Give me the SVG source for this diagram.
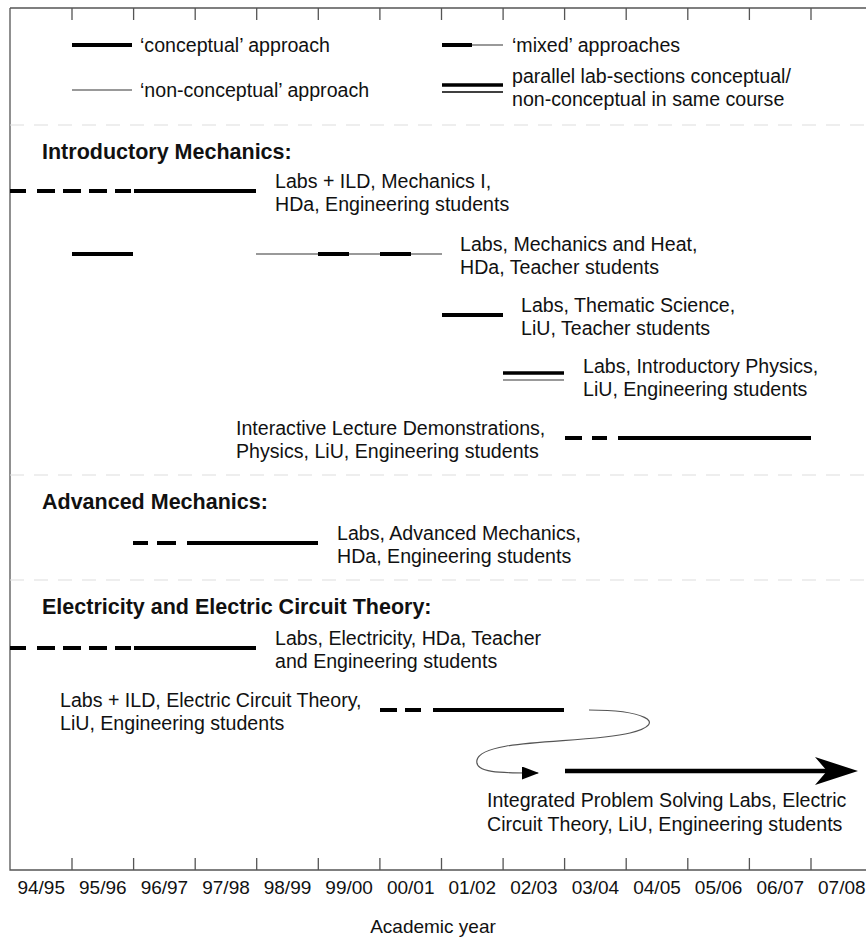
<svg xmlns="http://www.w3.org/2000/svg" width="866" height="942" viewBox="0 0 866 942">
<style>
text{font-family:"Liberation Sans",Arial,sans-serif;font-size:19.6px;fill:#111}
.h{font-weight:bold;font-size:21.5px}
.ax{fill:none;stroke:#555;stroke-width:1.3}
.sep{stroke:#ddd;stroke-width:1;stroke-dasharray:14 10}
.c{stroke:#000;stroke-width:4;fill:none}
.n{stroke:#777;stroke-width:1.5;fill:none}
.yl{text-anchor:middle;font-size:19px}
</style>
<defs>
<marker id="sm" markerWidth="17" markerHeight="13" refX="16" refY="6.5" orient="auto" markerUnits="userSpaceOnUse"><path d="M0,0 L17,6.5 L0,13 Z" fill="#000"/></marker>
</defs>
<rect width="866" height="942" fill="#fff"/>
<g id="frame">
<path class="ax" d="M10,8 H866 M10,8 V870 H866"/>
<path class="ax" d="M72,8v12 M133.6,8v12 M195.2,8v12 M256.7,8v12 M318.3,8v12 M379.9,8v12 M441.5,8v12 M503.1,8v12 M564.6,8v12 M626.2,8v12 M687.8,8v12 M749.4,8v12 M811,8v12"/>
<path class="ax" d="M72,870v-12 M133.6,870v-12 M195.2,870v-12 M256.7,870v-12 M318.3,870v-12 M379.9,870v-12 M441.5,870v-12 M503.1,870v-12 M564.6,870v-12 M626.2,870v-12 M687.8,870v-12 M749.4,870v-12 M811,870v-12"/>
<line class="sep" x1="10" y1="125" x2="866" y2="125"/>
<line class="sep" x1="10" y1="475" x2="866" y2="475"/>
<line class="sep" x1="10" y1="580" x2="866" y2="580"/>
</g>
<g id="axis-labels">
<text class="yl" x="41.2" y="894">94/95</text>
<text class="yl" x="102.8" y="894">95/96</text>
<text class="yl" x="164.4" y="894">96/97</text>
<text class="yl" x="226" y="894">97/98</text>
<text class="yl" x="287.5" y="894">98/99</text>
<text class="yl" x="349.1" y="894">99/00</text>
<text class="yl" x="410.7" y="894">00/01</text>
<text class="yl" x="472.3" y="894">01/02</text>
<text class="yl" x="533.9" y="894">02/03</text>
<text class="yl" x="595.4" y="894">03/04</text>
<text class="yl" x="657" y="894">04/05</text>
<text class="yl" x="718.6" y="894">05/06</text>
<text class="yl" x="780.2" y="894">06/07</text>
<text class="yl" x="841.8" y="894">07/08</text>
<text class="yl" x="433" y="933">Academic year</text>
</g>
<g id="legend">
<line class="c" x1="72" y1="45" x2="132" y2="45"/>
<text x="140" y="52">‘conceptual’ approach</text>
<line class="n" x1="72" y1="90" x2="132" y2="90"/>
<text x="140" y="97">‘non-conceptual’ approach</text>
<line class="c" x1="442" y1="45" x2="472" y2="45"/>
<line class="n" x1="472" y1="45" x2="503" y2="45"/>
<text x="512" y="52">‘mixed’ approaches</text>
<line class="c" x1="442" y1="85" x2="503" y2="85" style="stroke-width:3.5"/>
<line x1="442" y1="92" x2="503" y2="92" stroke="#000" stroke-width="1.3"/>
<text x="512" y="83">parallel lab-sections conceptual/</text>
<text x="512" y="106">non-conceptual in same course</text>
</g>
<g id="intro-mech">
<text class="h" x="42" y="159">Introductory Mechanics:</text>
</g>
<g id="labs-ild-mech">
<path class="c" d="M10,191H26 M37,191H55 M63,191H81 M89,191H107 M115,191H131 M134,191H256"/>
<text x="275" y="188">Labs + ILD, Mechanics I,</text>
<text x="275" y="211">HDa, Engineering students</text>
</g>
<g id="labs-mech-heat">
<path class="c" d="M72,254H133"/>
<path class="n" d="M256,254H442"/>
<path class="c" d="M318,254H349 M380,254H411"/>
<text x="460" y="251">Labs, Mechanics and Heat,</text>
<text x="460" y="274">HDa, Teacher students</text>
</g>
<g id="labs-thematic">
<path class="c" d="M442,315H503"/>
<text x="521" y="312">Labs, Thematic Science,</text>
<text x="521" y="335">LiU, Teacher students</text>
</g>
<g id="labs-intro-phys">
<path class="c" d="M503,373H564" style="stroke-width:3.5"/>
<path d="M503,380H564" stroke="#777" stroke-width="1.5"/>
<text x="583" y="373">Labs, Introductory Physics,</text>
<text x="583" y="396">LiU, Engineering students</text>
</g>
<g id="ild-physics">
<path class="c" d="M565,438H582 M592,438H607 M618,438H811"/>
<text x="236" y="435">Interactive Lecture Demonstrations,</text>
<text x="236" y="458">Physics, LiU, Engineering students</text>
</g>
<g id="adv-mech">
<text class="h" x="42" y="509">Advanced Mechanics:</text>
</g>
<g id="labs-adv-mech">
<path class="c" d="M133,543H148 M157,543H176 M187,543H318"/>
<text x="337" y="540">Labs, Advanced Mechanics,</text>
<text x="337" y="563">HDa, Engineering students</text>
</g>
<g id="elec">
<text class="h" x="42" y="614">Electricity and Electric Circuit Theory:</text>
</g>
<g id="labs-elec">
<path class="c" d="M10,648H26 M37,648H55 M63,648H81 M89,648H107 M115,648H131 M134,648H256"/>
<text x="275" y="645">Labs, Electricity, HDa, Teacher</text>
<text x="275" y="668">and Engineering students</text>
</g>
<g id="labs-ild-ect">
<path class="c" d="M380,710H397 M405,710H421 M433,710H564"/>
<text x="60" y="707">Labs + ILD, Electric Circuit Theory,</text>
<text x="60" y="730">LiU, Engineering students</text>
</g>
<g id="ipsl">
<path d="M565,771H828" stroke="#000" stroke-width="4.5"/>
<path d="M858,771 L815,757 L827,771 L815,785 Z" fill="#000"/>
<text x="487" y="807">Integrated Problem Solving Labs, Electric</text>
<text x="487" y="831">Circuit Theory, LiU, Engineering students</text>
</g>
<g id="connectors">
<path d="M589,710 C640,710 672,722 630,733 C585,744 482,738 477,760 C474,774 505,773 538,773" fill="none" stroke="#555" stroke-width="1.2" marker-end="url(#sm)"/>
</g>
</svg>
